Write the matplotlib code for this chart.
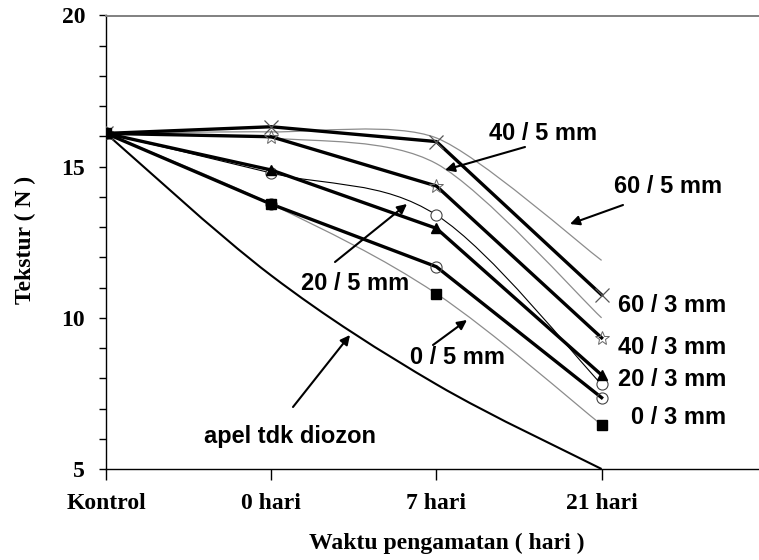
import matplotlib
matplotlib.use("Agg")
import matplotlib.pyplot as plt
import numpy as np
from matplotlib.path import Path
from matplotlib.patches import PathPatch

W, H = 759, 560

# data
kategori = ['Kontrol', '0 hari', '7 hari', '21 hari']
t60_3 = [16.1, 16.32, 15.83, 10.76]
t40_3 = [16.1, 15.99, 14.36, 9.34]
t20_3 = [16.1, 14.89, 12.96, 8.11]
t0_3 = [16.1, 13.76, 11.69, 7.36]
t60_5 = [16.1, 16.15, 15.95, 11.9]
t40_5 = [16.1, 15.95, 15.1, 10.0]
t20_5 = [16.1, 14.79, 13.40, 7.80]
t0_5 = [16.1, 13.76, 10.8, 6.46]
apel = [16.1, 11.4, 7.8, 5.0]


def px(x, y):
    # pixel position (from top-left) -> figure fraction
    return (x / W, 1 - y / H)


def smooth(ax, y, k=1 / 6, **kw):
    # excel-like smoothed line through the points (bezier)
    x = np.arange(len(y), dtype=float)
    y = np.asarray(y, dtype=float)
    p = np.column_stack([x, y])
    verts = [p[0]]
    codes = [Path.MOVETO]
    n = len(p)
    for i in range(n - 1):
        p0 = p[max(i - 1, 0)]
        p3 = p[min(i + 2, n - 1)]
        c1 = p[i] + (p[i + 1] - p0) * k
        c2 = p[i + 1] - (p3 - p[i]) * k
        verts += [c1, c2, p[i + 1]]
        codes += [Path.CURVE4] * 3
    ax.add_patch(PathPatch(Path(verts, codes), fill=False, **kw))


fig = plt.figure(figsize=(W / 100, H / 100), dpi=100)
ax = fig.add_axes([106 / W, 1 - 469 / H, 1 - 106 / W, (469 - 15.5) / H])

x = np.arange(len(kategori))

# smoothed thin lines
smooth(ax, t60_5, k=1 / 8, color='#8c8c8c', lw=0.9, zorder=2)
smooth(ax, t40_5, k=1 / 7, color='#8c8c8c', lw=0.9, zorder=2)
smooth(ax, t0_5, color='#8c8c8c', lw=0.9, zorder=2)
smooth(ax, t20_5, color='black', lw=0.8, zorder=2)
smooth(ax, apel, color='black', lw=1.5, zorder=2)

ax.plot(x, t20_5, ls='none', marker='o', ms=8, mfc='white', mec='#444444', mew=0.8, zorder=3)
ax.plot(x, t0_5, ls='none', marker='s', ms=7, color='black', zorder=5)

# thick lines
ax.plot(x, t0_3, color='black', lw=2.4, marker='o', ms=8, mfc='none', mec='#444444', mew=0.8, zorder=4)
ax.plot(x, t20_3, color='black', lw=2.4, marker='^', ms=7, zorder=4)
ax.plot(x, t40_3, color='black', lw=2.4, marker='*', ms=10, mfc='none', mec='#666666', mew=0.7, zorder=4)
ax.plot(x, t60_3, color='black', lw=2.4, marker='x', ms=10, mec='#555555', mew=0.9, zorder=4)

ax.set_xlim(0, (W - 106) / 165.2)
ax.set_ylim(5, 20)

ax.spines['right'].set_visible(False)
ax.spines['top'].set_color('#808080')
ax.spines['top'].set_linewidth(1.4)
ax.spines['left'].set_linewidth(1.0)
ax.spines['bottom'].set_linewidth(1.0)

ax.set_yticks([5, 10, 15, 20])
ax.set_yticks(np.arange(5, 21, 1), minor=True)
ax.tick_params(axis='y', which='both', direction='out', length=5, width=1, pad=10)
ax.set_xticks(x)
ax.set_xticklabels(kategori)
ax.tick_params(axis='x', direction='out', length=8, width=1, pad=9)
for lab in ax.get_xticklabels() + ax.get_yticklabels():
    lab.set_fontfamily('Liberation Serif')
    lab.set_fontweight('bold')
    lab.set_fontsize(17)

serif = dict(family='Liberation Serif', weight='bold', fontsize=17)
fig.text(*px(447, 543), 'Waktu pengamatan ( hari )', ha='center', va='center', **serif)
fig.text(*px(25, 240), 'Tekstur ( N )', ha='center', va='center', rotation=90, **serif)

sans = dict(family='Liberation Sans', weight='bold', fontsize=17)
arrow = dict(arrowstyle='-|>', color='black', lw=1.5, mutation_scale=14, shrinkA=0, shrinkB=0)


def pijl(tip, tail):
    ax.annotate('', xy=px(*tip), xycoords='figure fraction',
                xytext=px(*tail), textcoords='figure fraction', arrowprops=arrow)


pijl((445, 170), (525, 147))
fig.text(*px(543, 133), '40 / 5 mm', ha='center', va='center', **sans)

pijl((570, 224), (623, 205))
fig.text(*px(668, 187), '60 / 5 mm', ha='center', va='center', **sans)

pijl((407, 204), (335, 262))
fig.text(*px(355, 283), '20 / 5 mm', ha='center', va='center', **sans)

pijl((467, 320), (433, 345))
fig.text(*px(458, 358), '0 / 5 mm', ha='center', va='center', **sans)

pijl((350, 335), (293, 407))
fig.text(*px(290, 437), 'apel tdk diozon', ha='center', va='center', **sans)

for txt, yy in [('60 / 3 mm', 305), ('40 / 3 mm', 348), ('20 / 3 mm', 380), ('0 / 3 mm', 417)]:
    fig.text(*px(726, yy), txt, ha='right', va='center', **sans)

fig.savefig('out.png', dpi=100, facecolor='white')
